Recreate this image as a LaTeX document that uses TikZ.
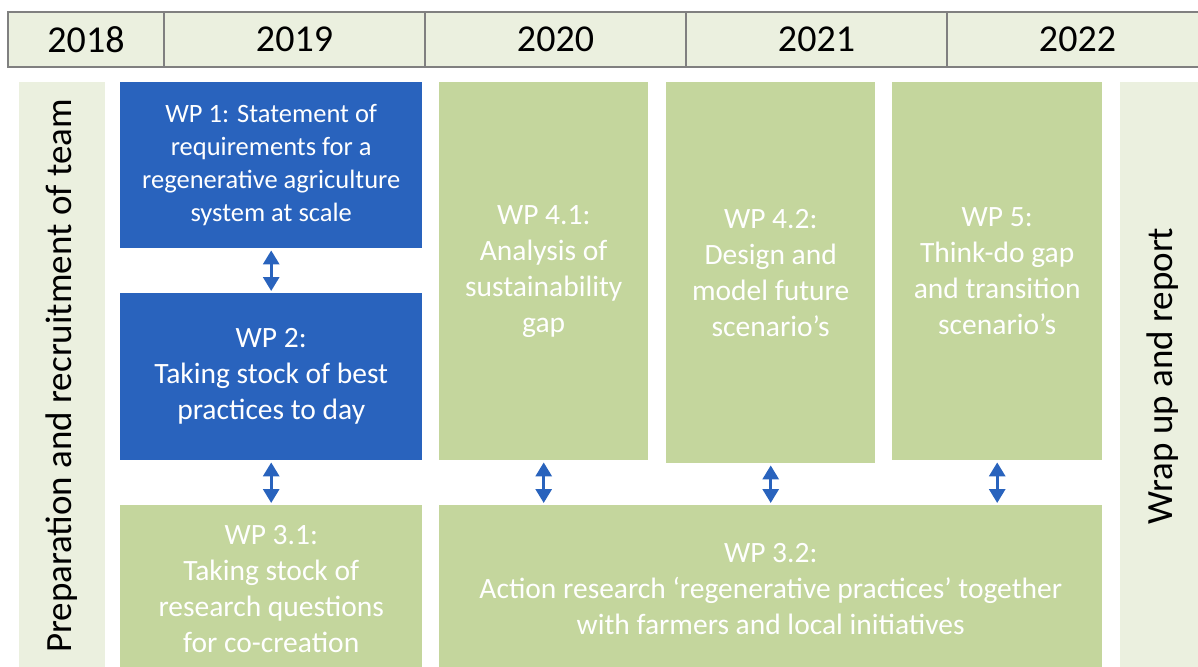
\documentclass[tikz,border=0pt]{standalone}
\usepackage{fontspec}
\setmainfont{Carlito}
\usetikzlibrary{arrows.meta}

\definecolor{wpblue}{RGB}{41,99,189}
\definecolor{wpgreen}{RGB}{196,214,157}
\definecolor{wplight}{RGB}{235,240,223}
\definecolor{wpgrey}{RGB}{128,128,128}

\tikzset{
  year/.style={draw=wpgrey, line width=2pt, fill=wplight, anchor=north west,
    minimum height=55pt, inner sep=0pt, font=\fontsize{38}{44}\selectfont},
  phase/.style={fill=wplight, rotate=90, minimum width=588pt, minimum height=86pt,
    inner sep=0pt, font=\fontsize{37}{43}\selectfont},
  wpbox/.style={anchor=north west, inner sep=0pt, text=white, align=center,
    font=\fontsize{29.5}{36}\selectfont},
  bluebox/.style={wpbox, fill=wpblue},
  greenbox/.style={wpbox, fill=wpgreen},
  link/.style={{Triangle[width=16pt,length=14pt]}-{Triangle[width=16pt,length=14pt]},
    draw=wpblue, line width=3pt, shorten >=2pt, shorten <=2pt}
}

\begin{document}
\begin{tikzpicture}[x=1pt,y=-1pt]
        \clip (0,0) rectangle (1198,666);
        % years
        \node[year, minimum width=156pt] (y18) at (7,11) {2018};
        \node[year, minimum width=261pt] (y19) at (163,11) {2019};
        \node[year, minimum width=261pt] (y20) at (424,11) {2020};
        \node[year, minimum width=261pt] (y21) at (685,11) {2021};
        \node[year, minimum width=261pt] (y22) at (946,11) {2022};
        % start and end
        \node[phase] (prep) at (62,376) {Preparation and recruitment of team};
        \node[phase] (wrap) at (1163,376) {Wrap up and report};
        % work packages
        \node[bluebox, minimum width=302pt, minimum height=166pt, font=\fontsize{26.5}{33}\selectfont] (wp1) at (120,82)
            {WP 1: Statement of\\requirements for a\\regenerative agriculture\\system at scale};
        \node[bluebox, minimum width=302pt, minimum height=167pt] (wp2) at (120,293)
            {WP 2:\\Taking stock of best\\practices to day};
        \node[greenbox, minimum width=302pt, minimum height=168pt] (wp31) at (120,505)
            {WP 3.1:\\Taking stock of\\research questions\\for co-creation};
        \node[greenbox, minimum width=209pt, minimum height=378pt] (wp41) at (439,82)
            {WP 4.1:\\Analysis of\\sustainability\\gap};
        \node[greenbox, minimum width=209pt, minimum height=381pt] (wp42) at (666,82)
            {WP 4.2:\\Design and\\model  future\\scenario’s};
        \node[greenbox, minimum width=210pt, minimum height=378pt] (wp5) at (892,82)
            {WP 5:\\Think-do gap\\and transition\\scenario’s};
        \node[greenbox, minimum width=663pt, minimum height=168pt] (wp32) at (439,505)
            {WP 3.2:\\Action research ‘regenerative practices’ together\\with farmers and local initiatives};
        % links
        \draw[link] (wp1) -- (wp2);
        \draw[link] (wp2) -- (wp31);
        \draw[link] (wp41.south) -- (wp41.south |- wp32.north);
        \draw[link] (wp42.south) -- (wp42.south |- wp32.north);
        \draw[link] (wp5.south) -- (wp5.south |- wp32.north);
\end{tikzpicture}
\end{document}
